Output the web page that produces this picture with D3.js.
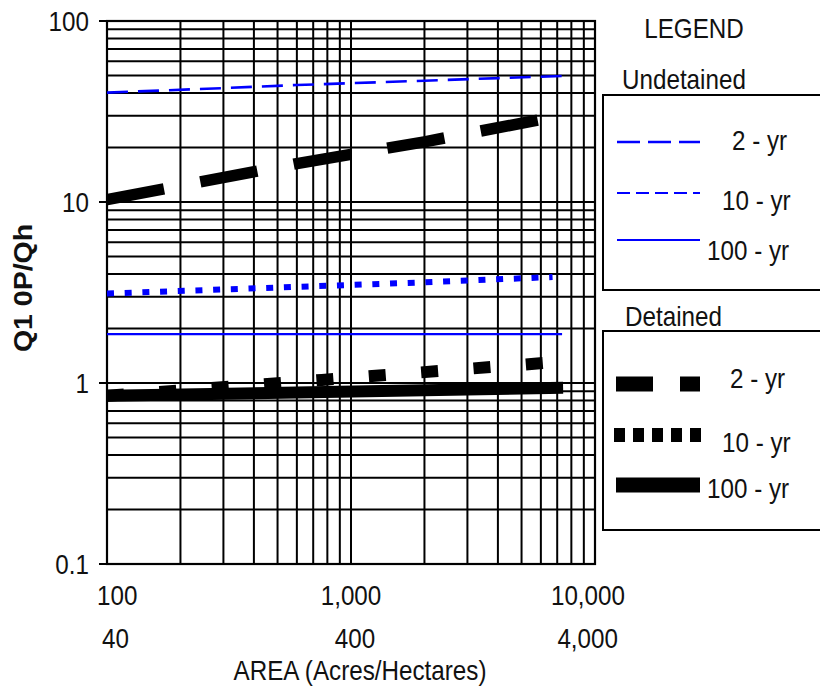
<!DOCTYPE html>
<html><head><meta charset="utf-8">
<script src="https://cdn.jsdelivr.net/npm/d3@7"></script>
<style>body{margin:0;background:#fff}svg{display:block}text{font-family:"Liberation Sans",Arial,sans-serif;fill:#111}</style>
</head><body>
<svg id="c" width="820" height="689"></svg>
<script>
// ---- data ----
const xTickAcres = [100, 1000, 10000];
const xTickAcreLabels = ["100", "1,000", "10,000"];
const xTickHaLabels = ["40", "400", "4,000"];
const yTicks = [100, 10, 1, 0.1];
const yTickLabels = ["100", "10", "1", "0.1"];

const undet2Area = [100, 300, 600, 2000, 7300];
const undet2 = [40.2, 42.6, 44.3, 46.8, 49.7];
const undet10Area = [100, 300, 2000, 6700];
const undet10 = [3.12, 3.29, 3.6, 3.85];
const undet100Area = [100, 7330];
const undet100 = [1.86, 1.86];
const det2Area = [100, 600, 2000, 6350];
const det2 = [10.3, 16.3, 21.5, 29.0];
const det10Area = [100, 760, 6200];
const det10 = [0.85, 1.04, 1.29];
const det100Area = [100, 7400];
const det100 = [0.85, 0.94];

const legendUndet = ["2 - yr", "10 - yr", "100 - yr"];
const legendDet = ["2 - yr", "10 - yr", "100 - yr"];

// ---- layout ----
const svg = d3.select("#c");
const L = 107, R = 595, T = 21, B = 564;
const x = d3.scaleLog().domain([100, 10000]).range([L, R]);
const y = d3.scaleLog().domain([0.1, 100]).range([B, T]);
const BLUE = "#0000ff";
const SX = 0.85, FS = 28.5;

function txt(s, tx, ty, anchor, opts = {}) {
  const t = svg.append("text")
    .attr("transform", `translate(${tx},${ty}) scale(${opts.sx || SX},1)`)
    .attr("text-anchor", anchor || "start")
    .attr("font-size", opts.fs || FS)
    .text(s);
  if (opts.bold) t.attr("font-weight", "bold");
  return t;
}

// grid
const gx = [], gy = [];
for (let d = 100; d < 10000; d *= 10) for (let k = 1; k < 10; k++) gx.push(d * k);
gx.push(10000);
for (let d = 0.1; d < 99; d *= 10) for (let k = 1; k < 10; k++) gy.push(+(d * k).toPrecision(3));
gy.push(100);
const grid = svg.append("g").attr("stroke", "#000").attr("stroke-width", 2);
grid.selectAll("line.v").data(gx).join("line").attr("class", "v")
  .attr("x1", d => x(d)).attr("x2", d => x(d)).attr("y1", T).attr("y2", B);
grid.selectAll("line.h").data(gy).join("line").attr("class", "h")
  .attr("x1", L).attr("x2", R).attr("y1", d => y(d)).attr("y2", d => y(d));
// y decade ticks
grid.selectAll("line.t").data(yTicks).join("line").attr("class", "t")
  .attr("x1", L - 8).attr("x2", L).attr("y1", d => y(d)).attr("y2", d => y(d));
svg.append("rect").attr("x", L).attr("y", T).attr("width", R - L).attr("height", B - T)
  .attr("fill", "none").attr("stroke", "#000").attr("stroke-width", 2.2);

// series
const line = d3.line().x(d => x(d[0])).y(d => y(d[1]));
function series(ax, vals, stroke, w, dash, cap) {
  svg.append("path").datum(ax.map((a, i) => [a, vals[i]]))
    .attr("d", line).attr("fill", "none").attr("stroke", stroke)
    .attr("stroke-width", w).attr("stroke-dasharray", dash || null)
    .attr("stroke-linecap", cap || "butt");
}
series(det100Area, det100, "#000", 12, null);
series(det10Area, det10, "#000", 12, "17 35.5");
series(det2Area, det2, "#000", 11.5, "58 37");
series(undet100Area, undet100, BLUE, 2.2, null);
series(undet10Area, undet10, BLUE, 6, "7 10.7");
series(undet2Area, undet2, BLUE, 2.6, "21 10");

// y labels
yTicks.forEach((v, i) => txt(yTickLabels[i], 89, y(v) + 10, "end"));
// x labels
xTickAcres.forEach((v, i) => {
  const anc = i === 0 ? "start" : (i === xTickAcres.length - 1 ? "end" : "middle");
  const off1 = i === 0 ? -10 : (i === xTickAcres.length - 1 ? 30 : 0);
  const off2 = i === 0 ? -5 : (i === xTickAcres.length - 1 ? 23 : 4);
  txt(xTickAcreLabels[i], x(v) + off1, 605, anc);
  txt(xTickHaLabels[i], x(v) + off2, 648, anc);
});
txt("AREA (Acres/Hectares)", 360, 680, "middle");
svg.append("text")
  .attr("transform", "translate(32,288) rotate(-90) scale(1.14,1)")
  .attr("text-anchor", "middle").attr("font-size", 25).attr("font-weight", "bold")
  .text("Q1 0P/Qh");

// legend
txt("LEGEND", 694, 38, "middle");
txt("Undetained", 622, 89, "start");
svg.append("rect").attr("x", 603).attr("y", 95).attr("width", 240).attr("height", 195)
  .attr("fill", "none").attr("stroke", "#000").attr("stroke-width", 2);
txt("Detained", 625, 326, "start");
svg.append("rect").attr("x", 603).attr("y", 331).attr("width", 240).attr("height", 199)
  .attr("fill", "none").attr("stroke", "#000").attr("stroke-width", 2);

const lg = [
  {y: 142, stroke: BLUE, w: 2.6, dash: "23 8", x1: 617, x2: 700},
  {y: 193, stroke: BLUE, w: 2.2, dash: "13 6", x1: 617, x2: 700},
  {y: 240, stroke: BLUE, w: 2.2, dash: null, x1: 617, x2: 700},
  {y: 384, stroke: "#000", w: 15, dash: "37 27 20 100", x1: 616, x2: 700},
  {y: 435, stroke: "#000", w: 14, dash: "11 8", x1: 614, x2: 701},
  {y: 485, stroke: "#000", w: 15, dash: null, x1: 616, x2: 700}
];
lg.forEach(o => svg.append("line").attr("x1", o.x1).attr("x2", o.x2).attr("y1", o.y).attr("y2", o.y)
  .attr("stroke", o.stroke).attr("stroke-width", o.w).attr("stroke-dasharray", o.dash));
const lx = [732, 722, 707];
legendUndet.forEach((s, i) => txt(s, lx[i], [150, 210, 260][i], "start"));
legendDet.forEach((s, i) => txt(s, lx[i] - (i === 0 ? 2 : 0), [388, 452, 498][i], "start"));
</script>
</body></html>
